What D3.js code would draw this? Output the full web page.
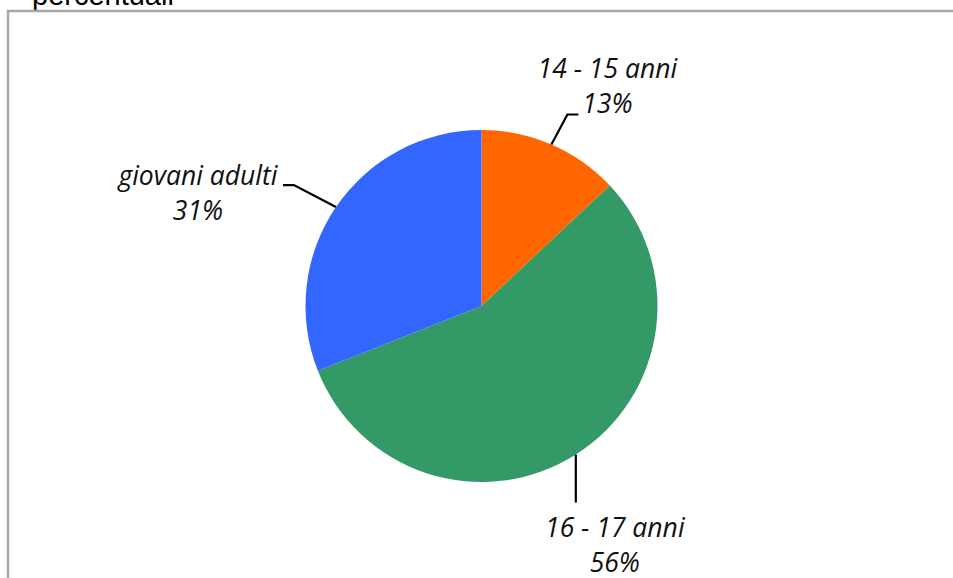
<!DOCTYPE html>
<html>
<head>
<meta charset="utf-8">
<script src="https://cdn.jsdelivr.net/npm/d3@7"></script>
<style>
  html, body { margin: 0; padding: 0; background: #fff; }
  svg { display: block; }
</style>
</head>
<body>
<svg id="chart" width="953" height="578"></svg>
<script>
const categories = ["14 - 15 anni", "16 - 17 anni", "giovani adulti"];
const values = [13, 56, 31];
const colors = ["#FF6600", "#339966", "#3366FF"];
const titleText = "percentuali";

const W = 953, H = 578;
const svg = d3.select("#chart");

// clipped title above the frame
svg.append("text")
  .attr("x", 32).attr("y", 5)
  .attr("font-family", "Liberation Sans, Arial, sans-serif")
  .attr("font-size", 29)
  .attr("fill", "#000")
  .text(titleText);

// frame
svg.append("rect")
  .attr("x", 8).attr("y", 11)
  .attr("width", W + 20).attr("height", H + 20)
  .attr("fill", "none")
  .attr("stroke", "#a8a8a8")
  .attr("stroke-width", 2.5);

const cx = 481.5, cy = 306, R = 176;
const g = svg.append("g").attr("transform", `translate(${cx},${cy})`);

const pie = d3.pie().sort(null).value(d => d.value);
const data = categories.map((c, i) => ({ cat: c, value: values[i], color: colors[i] }));
const arcs = pie(data);
const arc = d3.arc().innerRadius(0).outerRadius(R);
const edgeArc = d3.arc().innerRadius(R).outerRadius(R);

g.selectAll("path.slice")
  .data(arcs)
  .enter().append("path")
  .attr("class", "slice")
  .attr("d", arc)
  .attr("fill", d => d.data.color);

// label layout (leader offsets relative to slice edge midpoint)
const layout = [
  { elbow: [16, -30], end: [27, -30], tx: 56, ty1: -66, ty2: -31 },
  { elbow: [0, 48], end: [0, 48], tx: 39, ty1: 82, ty2: 117 },
  { elbow: [-42, -22], end: [-53, -22], tx: -138, ty1: -22, ty2: 13 }
];

const fontFam = "Open Sans, Noto Sans, sans-serif";
arcs.forEach((a, i) => {
  const [ex, ey] = edgeArc.centroid(a);
  const L = layout[i];
  const pts = [[ex, ey], [ex + L.elbow[0], ey + L.elbow[1]], [ex + L.end[0], ey + L.end[1]]];
  g.append("path")
    .attr("d", d3.line()(pts))
    .attr("fill", "none")
    .attr("stroke", "#000")
    .attr("stroke-width", 2.2);
  const pct = Math.round(a.data.value / d3.sum(values) * 100) + "%";
  const t = g.append("text")
    .attr("font-family", fontFam)
    .attr("font-style", "italic")
    .attr("font-size", 26.5)
    .attr("fill", "#111")
    .attr("text-anchor", "middle");
  t.append("tspan").attr("x", ex + L.tx).attr("y", ey + L.ty1).text(a.data.cat);
  t.append("tspan").attr("x", ex + L.tx).attr("y", ey + L.ty2).text(pct);
});
</script>
</body>
</html>
